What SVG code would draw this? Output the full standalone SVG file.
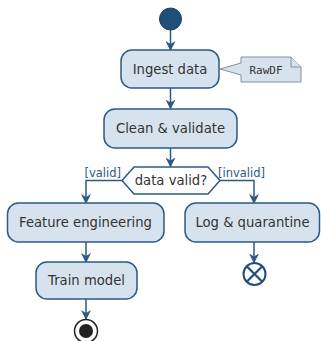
<svg xmlns="http://www.w3.org/2000/svg" width="321" height="341" viewBox="0 0 321 341">
<defs>
<style>
.box{fill:#d6e3ef;stroke:#2c5a85;stroke-width:1.5}
.t{font-family:"DejaVu Sans",sans-serif;font-size:13.2px;fill:#333;text-anchor:middle;dominant-baseline:central}
.lbl{font-family:"DejaVu Sans",sans-serif;font-size:11.5px;fill:#2c5a85}
.ln{fill:none;stroke:#2c5a85;stroke-width:1.5}
.note{fill:#d6e3ef;stroke:#8a8f96;stroke-width:1}
</style>
<marker id="ah" viewBox="0 0 10 10" refX="9" refY="5" markerWidth="10" markerHeight="10" markerUnits="userSpaceOnUse" orient="auto">
<path d="M0,0 L10,5 L0,10 L3,5 Z" fill="#2c5a85"/>
</marker>
</defs>
<rect width="321" height="341" fill="#ffffff"/>
<g id="connectors">
<line class="ln" x1="170.5" y1="30" x2="170.5" y2="50" marker-end="url(#ah)"/>
<line class="ln" x1="170.5" y1="88" x2="170.5" y2="108.5" marker-end="url(#ah)"/>
<line class="ln" x1="170.5" y1="148" x2="170.5" y2="166.5" marker-end="url(#ah)"/>
<polyline class="ln" points="122,180.5 86,180.5 86,203" marker-end="url(#ah)"/>
<polyline class="ln" points="220,180.5 254,180.5 254,203" marker-end="url(#ah)"/>
<line class="ln" x1="86" y1="242" x2="86" y2="262" marker-end="url(#ah)"/>
<line class="ln" x1="254" y1="242" x2="254" y2="262.5" marker-end="url(#ah)"/>
<line class="ln" x1="86" y1="299" x2="86" y2="319" marker-end="url(#ah)"/>
<text class="lbl" x="121" y="177" text-anchor="end">[valid]</text>
<text class="lbl" x="218" y="177">[invalid]</text>
</g>
<g id="start"><circle cx="170.5" cy="19" r="11" fill="#1f4e79" stroke="#1a3f63" stroke-width="1"/></g>
<g id="ingest">
<rect class="box" x="121" y="50" width="98" height="38" rx="11"/>
<text class="t" x="170" y="69">Ingest data</text>
</g>
<g id="note">
<path class="note" d="M241,57 H291 L301,67 V82 H241 V75 L220,69 L241,63 Z"/>
<path class="note" d="M291,57 V67 H301" fill="none"/>
<text x="266" y="70" font-family="'DejaVu Sans Mono',monospace" font-size="11px" fill="#333" text-anchor="middle" dominant-baseline="central">RawDF</text>
</g>
<g id="clean">
<rect class="box" x="104" y="109" width="133" height="39" rx="11"/>
<text class="t" x="170.5" y="128.5">Clean &amp; validate</text>
</g>
<g id="decision">
<polygon points="122,180.5 134,167 208,167 220,180.5 208,194 134,194" fill="#ffffff" stroke="#2c5a85" stroke-width="1.5"/>
<text class="t" x="171" y="180.5">data valid?</text>
</g>
<g id="feature">
<rect class="box" x="7.5" y="203" width="156.5" height="39" rx="11"/>
<text class="t" x="85.5" y="222.5">Feature engineering</text>
</g>
<g id="log">
<rect class="box" x="185" y="203" width="134.5" height="39" rx="11"/>
<text class="t" x="252.5" y="222.5">Log &amp; quarantine</text>
</g>
<g id="stop">
<circle cx="254.5" cy="274" r="11" fill="#ffffff" stroke="#1f4e79" stroke-width="2"/>
<line x1="246.7" y1="266.2" x2="262.3" y2="281.8" stroke="#1f4e79" stroke-width="2.2"/>
<line x1="262.3" y1="266.2" x2="246.7" y2="281.8" stroke="#1f4e79" stroke-width="2.2"/>
</g>
<g id="train">
<rect class="box" x="36" y="262" width="101" height="37" rx="11"/>
<text class="t" x="86.5" y="280.5">Train model</text>
</g>
<g id="end">
<circle cx="86" cy="331" r="11.5" fill="#ffffff" stroke="#222" stroke-width="1.5"/>
<circle cx="86" cy="331" r="7" fill="#222"/>
</g>
</svg>
